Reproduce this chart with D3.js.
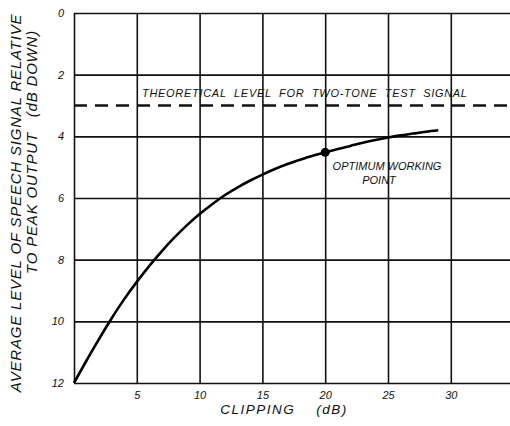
<!DOCTYPE html>
<html>
<head>
<meta charset="utf-8">
<script src="https://cdn.jsdelivr.net/npm/d3@7"></script>
<style>
  body { margin: 0; background: #fff; }
  text { font-family: "Liberation Sans", Arial, sans-serif; font-style: italic; fill: #111; white-space: pre; }
</style>
</head>
<body>
<script>
// values
var clipping = [0, 1, 2, 3, 4, 5, 6, 7, 8, 9, 10, 11, 12, 13, 14, 15, 16, 17, 18, 19, 20, 21, 22, 23, 24, 25, 26, 27, 28, 29];
var avgLevel = [12, 11.27, 10.57, 9.9, 9.28, 8.72, 8.2, 7.72, 7.28, 6.88, 6.52, 6.2, 5.91, 5.66, 5.44, 5.24, 5.06, 4.9, 4.76, 4.63, 4.52, 4.41, 4.31, 4.21, 4.12, 4.04, 3.97, 3.91, 3.85, 3.8];
var xTicks = [5, 10, 15, 20, 25, 30];
var yTicks = [0, 2, 4, 6, 8, 10, 12];
var twoToneLevel = 3;
var optimum = {x: 20, y: 4.52};

var width = 510, height = 426;
var plotLeft = 74, plotTop = 13, plotBottom = 383;

var svg = d3.select("body").append("svg")
    .attr("width", width)
    .attr("height", height);

var x = d3.scaleLinear().domain([0, 35]).range([plotLeft, plotLeft + 7 * 62.8]);
var y = d3.scaleLinear().domain([0, 12]).range([plotTop, plotBottom]);

// vertical grid + x labels
var xAxis = svg.append("g")
    .attr("transform", "translate(0," + plotBottom + ")")
    .call(d3.axisBottom(x).tickValues([0].concat(xTicks)).tickSize(-(plotBottom - plotTop)).tickPadding(8)
        .tickFormat(function(d){ return d === 0 ? "" : d; }));
xAxis.select(".domain").remove();
xAxis.selectAll("line").attr("stroke", "#111").attr("stroke-width", 1.6);
xAxis.selectAll("text").attr("font-size", 11).attr("font-family", null);

// horizontal grid + y labels
var yAxis = svg.append("g")
    .attr("transform", "translate(" + plotLeft + ",0)")
    .call(d3.axisLeft(y).tickValues(yTicks).tickSize(-(width - plotLeft)).tickPadding(10));
yAxis.select(".domain").remove();
yAxis.selectAll("line").attr("stroke", "#111").attr("stroke-width", 1.6);
yAxis.selectAll("text").attr("font-size", 11).attr("font-family", null);

// two-tone reference level
svg.append("line")
    .attr("x1", x(0)).attr("x2", width)
    .attr("y1", y(twoToneLevel)).attr("y2", y(twoToneLevel))
    .attr("stroke", "#111")
    .attr("stroke-width", 2.6)
    .attr("stroke-dasharray", "13,8");

svg.append("text")
    .attr("x", 142).attr("y", 97)
    .attr("font-size", 11)
    .attr("letter-spacing", 0.7)
    .text("THEORETICAL  LEVEL  FOR  TWO-TONE  TEST  SIGNAL");

// curve
var line = d3.line()
    .x(function(d, i){ return x(clipping[i]); })
    .y(function(d){ return y(d); })
    .curve(d3.curveCatmullRom);

svg.append("path")
    .datum(avgLevel)
    .attr("d", line)
    .attr("fill", "none")
    .attr("stroke", "#000")
    .attr("stroke-width", 2.6);

svg.append("circle")
    .attr("cx", x(optimum.x)).attr("cy", y(optimum.y))
    .attr("r", 4.5)
    .attr("fill", "#000");

svg.append("text")
    .attr("x", 387).attr("y", 170)
    .attr("text-anchor", "middle")
    .attr("font-size", 11)
    .text("OPTIMUM WORKING");
svg.append("text")
    .attr("x", 379).attr("y", 184)
    .attr("text-anchor", "middle")
    .attr("font-size", 11)
    .text("POINT");

// axis titles
svg.append("text")
    .attr("x", 284).attr("y", 414)
    .attr("text-anchor", "middle")
    .attr("font-size", 13.5)
    .attr("letter-spacing", 1.5)
    .text("CLIPPING    (dB)");

var yTitle = svg.append("g")
    .attr("transform", "translate(0,203) rotate(-90)");
yTitle.append("text")
    .attr("x", 0).attr("y", 21)
    .attr("text-anchor", "middle")
    .attr("font-size", 15)
    .attr("letter-spacing", 0.8)
    .text("AVERAGE LEVEL OF SPEECH SIGNAL RELATIVE");
yTitle.append("text")
    .attr("x", 173).attr("y", 37)
    .attr("text-anchor", "end")
    .attr("font-size", 15)
    .attr("letter-spacing", 0.8)
    .text("TO PEAK OUTPUT   (dB DOWN)");
</script>
</body>
</html>
